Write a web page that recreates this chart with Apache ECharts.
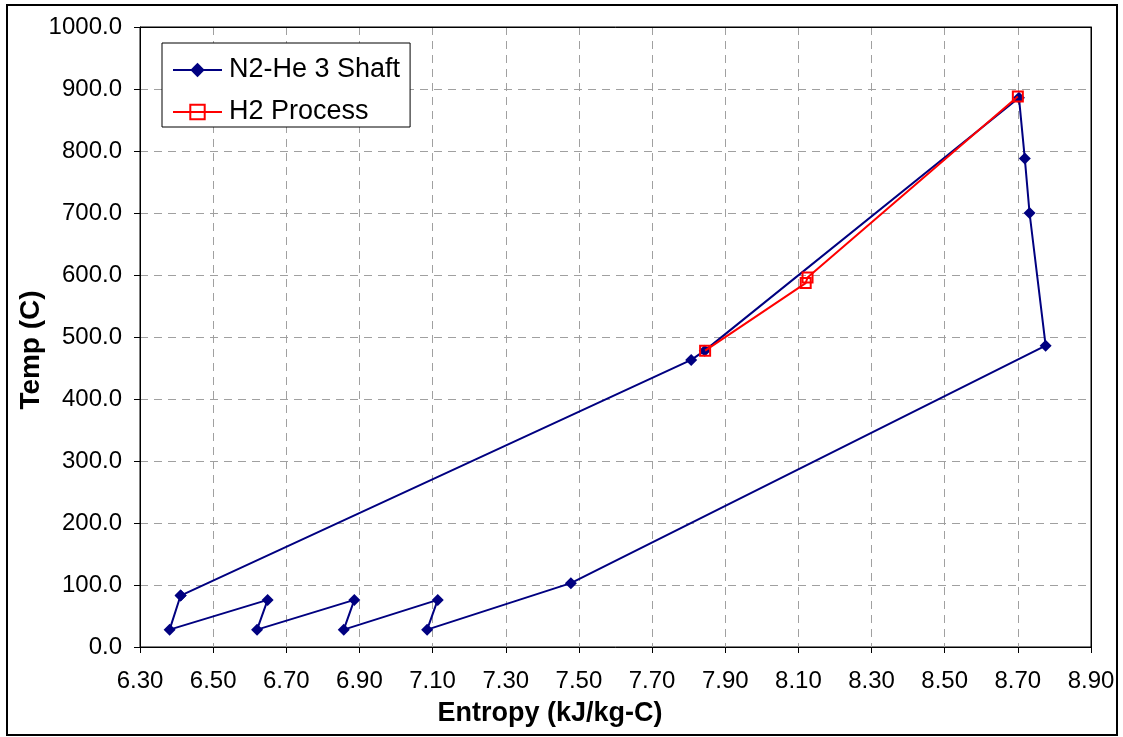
<!DOCTYPE html>
<html>
<head>
<meta charset="utf-8">
<script src="https://cdn.jsdelivr.net/npm/echarts@6/dist/echarts.min.js"></script>
<style>
html,body{margin:0;padding:0;background:#fff;}
#c{width:1123px;height:737px;}
</style>
</head>
<body>
<div id="c"></div>
<script>
// Data
const n2heEntropy = [6.411, 6.381, 6.649, 6.620, 6.886, 6.857, 7.114, 7.085, 7.478, 8.776, 8.732, 8.719, 8.703, 7.844, 7.807, 6.411];
const n2heTemp    = [83, 28, 76, 28, 76, 28, 76, 28, 103, 486, 700, 788, 886, 478, 463, 83];
const h2Entropy   = [7.845, 8.120, 8.125, 8.700];
const h2Temp      = [478, 587, 596, 888];
const seriesNames = ['N2-He 3 Shaft', 'H2 Process'];
const xMin = 6.30, xMax = 8.90, xStep = 0.20;
const yMin = 0, yMax = 1000, yStep = 100;
const xTitle = 'Entropy (kJ/kg-C)';
const yTitle = 'Temp (C)';

// x axis is offset so its ticks start at a multiple of the interval
const toPairs = (xs, ys) => xs.map((x, i) => [+(x - xMin).toFixed(4), ys[i]]);

const font = 'Liberation Sans, Arial, sans-serif';
const chart = echarts.init(document.getElementById('c'), null, {renderer: 'canvas'});
chart.setOption({
  animation: false,
  backgroundColor: '#fff',
  textStyle: {fontFamily: font},
  grid: {left: 140, right: 32, top: 27, bottom: 90, show: true, borderColor: '#000', borderWidth: 1, backgroundColor: '#fff'},
  legend: {
    orient: 'vertical', left: 162, top: 43,
    padding: [12, 10, 0, 10],
    itemWidth: 49, itemHeight: 18, itemGap: 12,
    backgroundColor: '#fff', borderColor: '#000', borderWidth: 1, borderRadius: 0,
    textStyle: {fontSize: 27, color: '#000', fontFamily: font, lineHeight: 30, padding: [0,0,0,2]},
    data: seriesNames
  },
  xAxis: [{
    type: 'value', min: 0, max: +(xMax - xMin).toFixed(2), interval: xStep,
    axisLine: {show: true, lineStyle: {color: '#000', width: 1}},
    axisTick: {show: true, inside: false, length: 6, lineStyle: {color: '#000'}},
    axisLabel: {fontSize: 24, color: '#000', margin: 22, fontFamily: font,
      formatter: v => (v + xMin).toFixed(2)},
    splitLine: {show: true, lineStyle: {color: '#a0a0a0', type: [8, 6], width: 1}}
  }, {
    type: 'value', position: 'top', min: 0, max: +(xMax - xMin).toFixed(2), z: 5,
    axisLine: {show: true, onZero: false, lineStyle: {color: '#000', width: 1}},
    axisTick: {show: false}, axisLabel: {show: false}, splitLine: {show: false}
  }],
  yAxis: [{
    type: 'value', min: yMin, max: yMax, interval: yStep,
    axisLine: {show: true, lineStyle: {color: '#000', width: 1}},
    axisTick: {show: true, inside: false, length: 6, lineStyle: {color: '#000'}},
    axisLabel: {fontSize: 24, color: '#000', margin: 18, fontFamily: font,
      formatter: v => v.toFixed(1)},
    splitLine: {show: true, lineStyle: {color: '#a0a0a0', type: [8, 6], width: 1}}
  }, {
    type: 'value', position: 'right', min: yMin, max: yMax, z: 5,
    axisLine: {show: true, onZero: false, lineStyle: {color: '#000', width: 1}},
    axisTick: {show: false}, axisLabel: {show: false}, splitLine: {show: false}
  }],
  graphic: [
    {type: 'rect', z: 100, silent: true, shape: {x: 7, y: 5, width: 1110, height: 730},
      style: {fill: 'none', stroke: '#000', lineWidth: 2}},
    {type: 'text', x: 550, y: 714, z: 100,
      style: {text: xTitle, font: 'bold 27px ' + font, fill: '#000', align: 'center', verticalAlign: 'middle'}},
    {type: 'text', x: 31, y: 350, rotation: Math.PI / 2, z: 100,
      style: {text: yTitle, font: 'bold 28px ' + font, fill: '#000', align: 'center', verticalAlign: 'middle'}}
  ],
  series: [{
    name: seriesNames[0], type: 'line', xAxisIndex: 0, yAxisIndex: 0,
    data: toPairs(n2heEntropy, n2heTemp),
    symbol: 'diamond', symbolSize: 12, showAllSymbol: true,
    lineStyle: {color: '#000080', width: 2},
    itemStyle: {color: '#000080'},
    z: 2
  }, {
    name: seriesNames[1], type: 'line', xAxisIndex: 0, yAxisIndex: 0,
    data: toPairs(h2Entropy, h2Temp),
    symbol: 'rect', symbolSize: 10, showAllSymbol: true,
    lineStyle: {color: '#ff0000', width: 2},
    itemStyle: {color: 'rgba(255,255,255,0)', borderColor: '#ff0000', borderWidth: 2},
    z: 3
  }]
});
</script>
</body>
</html>
